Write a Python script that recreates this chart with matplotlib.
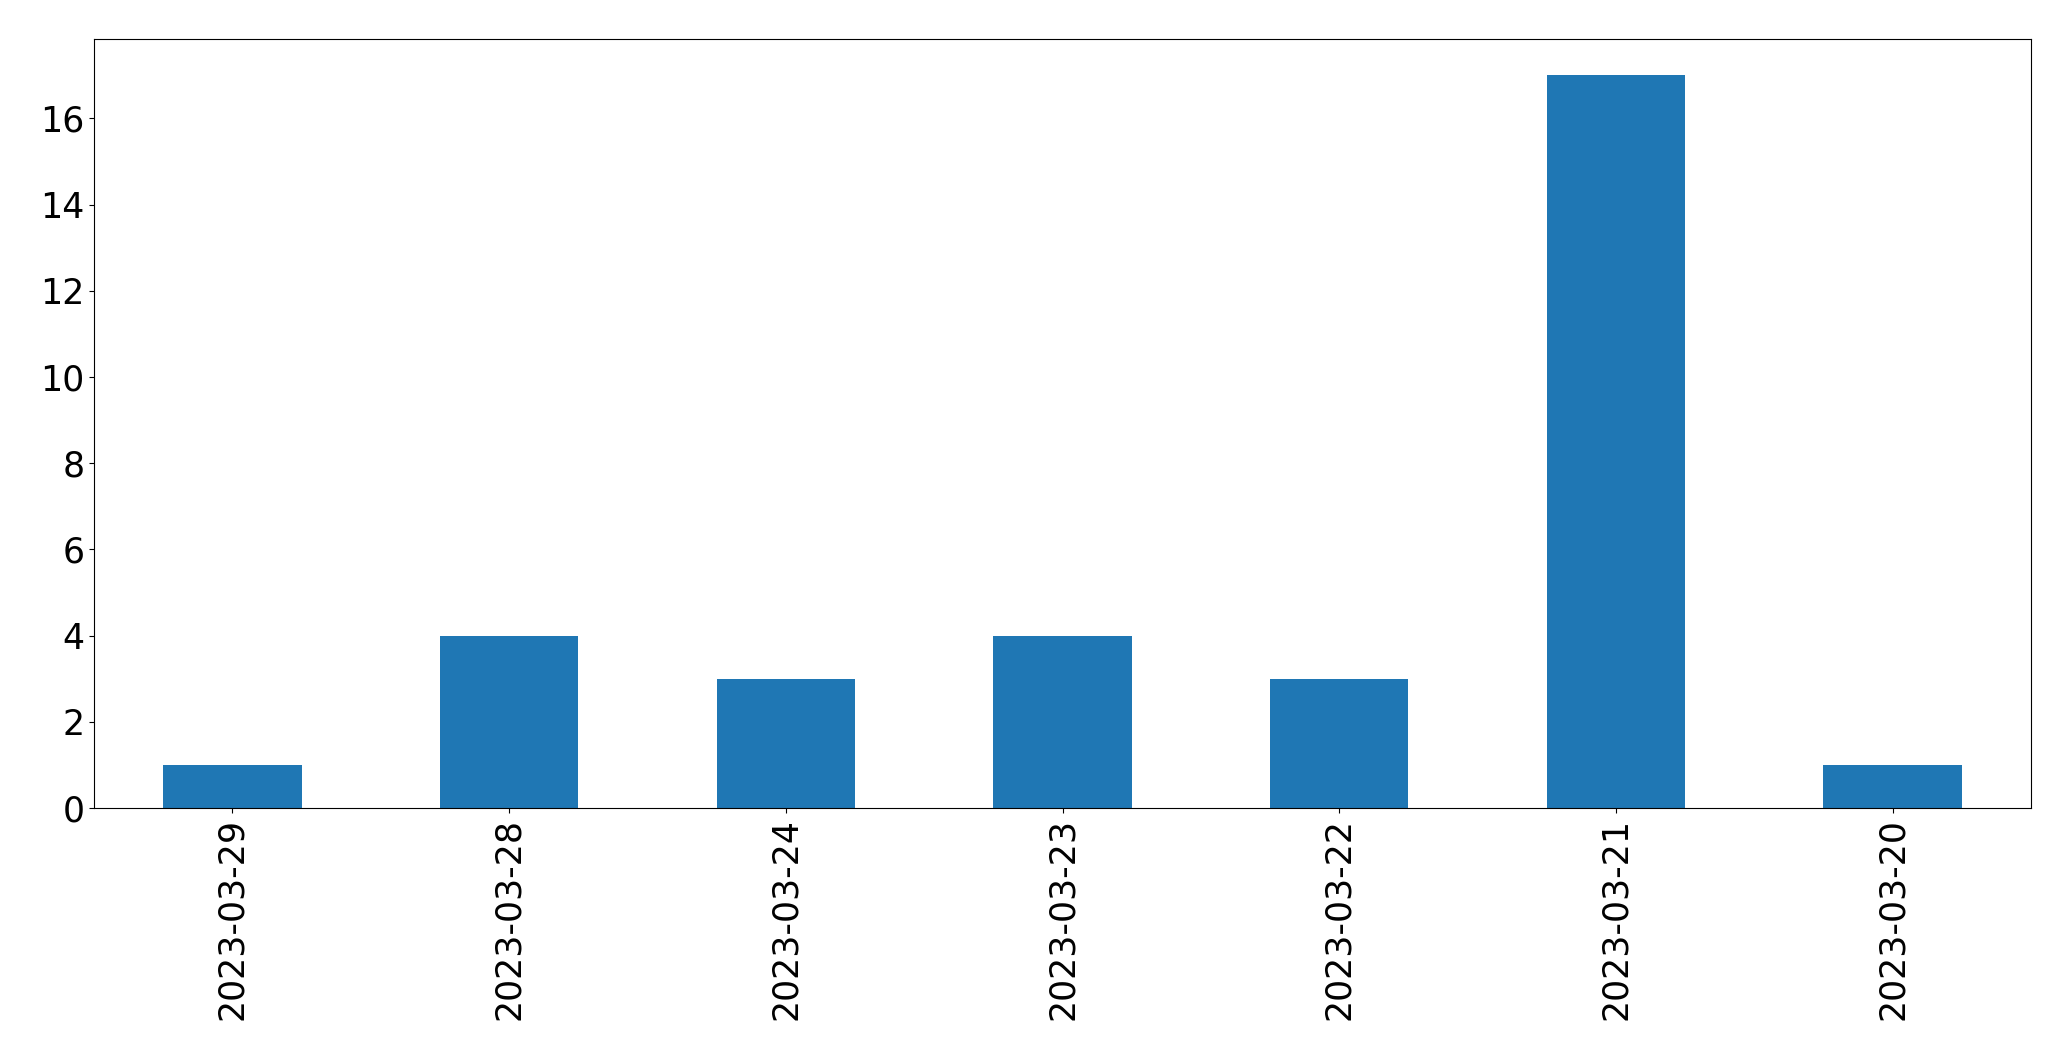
import matplotlib
matplotlib.use("Agg")
import matplotlib.pyplot as plt

dates = ["2023-03-29", "2023-03-28", "2023-03-24", "2023-03-23",
         "2023-03-22", "2023-03-21", "2023-03-20"]
counts = [1, 4, 3, 4, 3, 17, 1]

fig, ax = plt.subplots(figsize=(20.71, 10.61), dpi=100)
fig.subplots_adjust(left=0.0454, right=0.9807, top=0.9635, bottom=0.2385)

x = range(len(dates))
ax.bar(x, counts, width=0.5, color="#1f77b4")
ax.set_xlim(-0.5, len(dates) - 0.5)
ax.set_ylim(0, max(counts) * 1.05)
ax.set_xticks(list(x))
ax.set_xticklabels(dates, rotation=90)
ax.tick_params(axis="both", labelsize=25)

plt.savefig("out.png")
plt.close()
